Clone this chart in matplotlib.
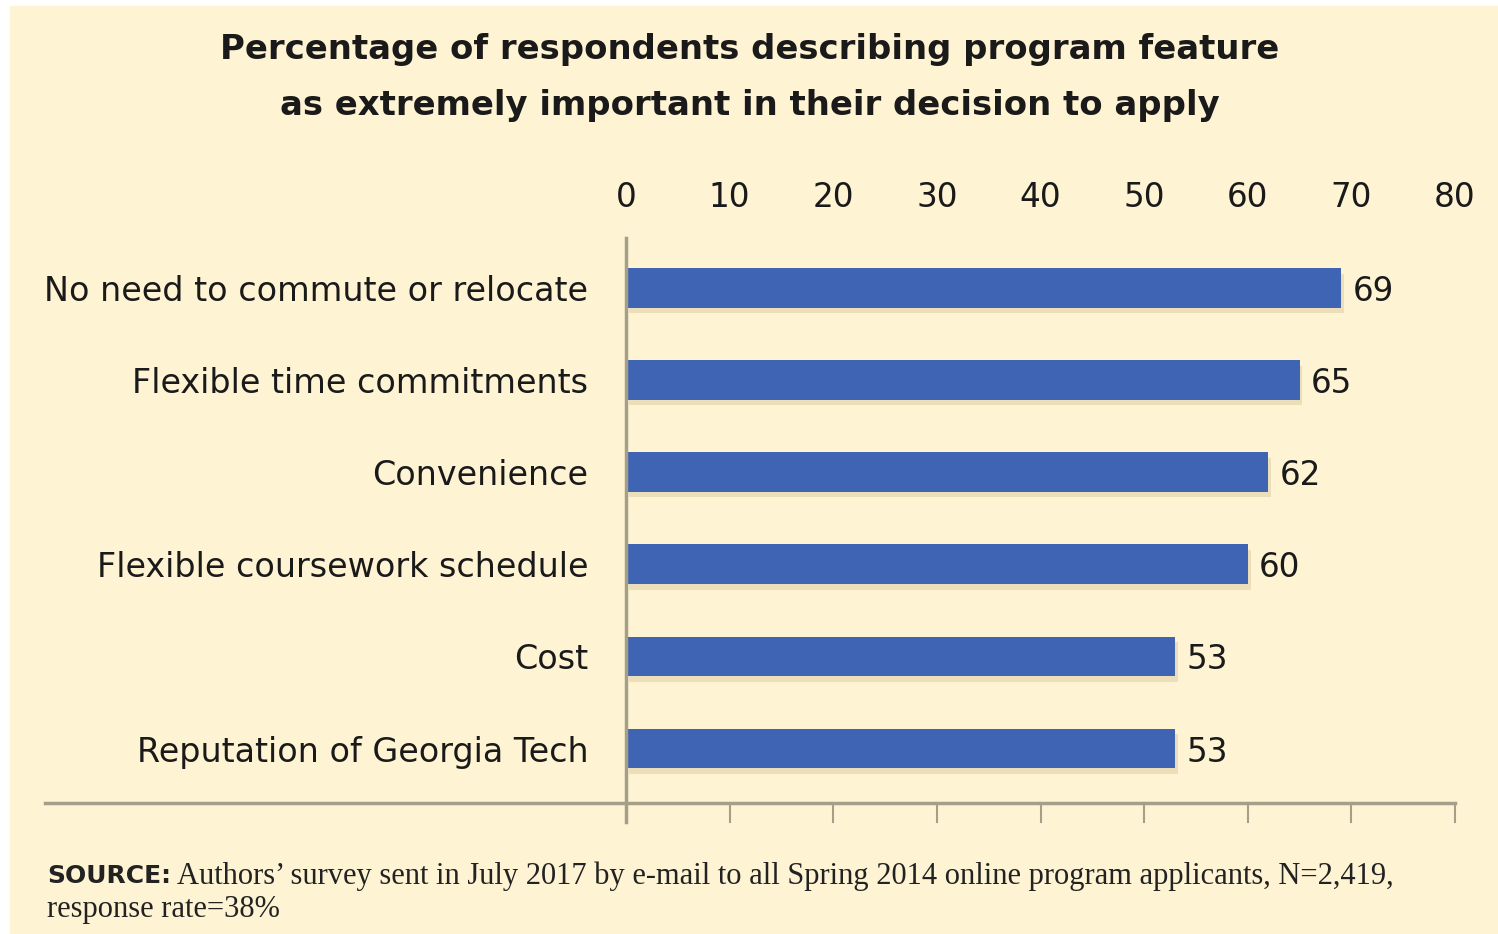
import matplotlib.pyplot as plt
from matplotlib.patches import Rectangle
from matplotlib.transforms import blended_transform_factory
import matplotlib.patheffects as pe

categories = ["No need to commute or relocate", "Flexible time commitments",
              "Convenience", "Flexible coursework schedule", "Cost",
              "Reputation of Georgia Tech"]
values = [69, 65, 62, 60, 53, 53]
xticks = [0, 10, 20, 30, 40, 50, 60, 70, 80]

cream = "#fef3d2"
bar_color = "#3e64b3"
axis_color = "#a59f8a"
text_color = "#1a1a1a"
font = "DejaVu Sans"

fig = plt.figure(figsize=(14.98, 9.34), dpi=100)
fig.patch.set_facecolor("white")
fig.patches.append(Rectangle((10 / 1498, 0), 1 - 10 / 1498, 1 - 6 / 934,
                             transform=fig.transFigure, color=cream, zorder=-10))

ax = fig.add_axes([626 / 1498, 1 - 803 / 934, 829 / 1498, 565 / 934])
ax.set_facecolor("none")

y = list(range(len(categories)))
bars = ax.barh(y, values, height=0.43, color=bar_color, zorder=3)
for b in bars:
    b.set_path_effects([pe.SimplePatchShadow(offset=(2, -4), shadow_rgbFace="#dccb9f", alpha=0.5),
                        pe.Normal()])

ax.set_xlim(0, 80)
ax.set_ylim(len(categories) - 1 + 0.59, -0.54)

for yi, v in zip(y, values):
    ax.text(v + 1.1, yi, str(v), va="center_baseline", ha="left", fontsize=23.5,
            family=font, color=text_color)

ax.set_yticks(y)
ax.set_yticklabels(categories, fontsize=24, family=font, color=text_color)
ax.tick_params(axis="y", length=0, pad=27)

ax.xaxis.tick_top()
ax.set_xticks(xticks)
ax.set_xticklabels([str(t) for t in xticks], fontsize=23.5, family=font, color=text_color)
ax.tick_params(axis="x", length=0, pad=17)

for s in ax.spines.values():
    s.set_visible(False)

# vertical axis line at zero, running a bit below the baseline
ax.plot([0, 0], [-0.54, len(categories) - 1 + 0.59 + 0.21], color=axis_color,
        lw=2.5, clip_on=False, zorder=4)
# baseline extending under the labels
tr = blended_transform_factory(ax.transAxes, ax.transData)
base = len(categories) - 1 + 0.59
ax.plot([(45 - 626) / 829, 1], [base, base], color=axis_color, lw=2.5,
        transform=tr, clip_on=False)
for t in xticks[1:]:
    ax.plot([t, t], [base, base + 0.21], color=axis_color, lw=1.5, clip_on=False)

fig.text(750 / 1498, 1 - 50 / 934, "Percentage of respondents describing program feature",
         ha="center", va="center", fontsize=24.4, fontweight="bold", family=font,
         color=text_color)
fig.text(750 / 1498, 1 - 105 / 934, "as extremely important in their decision to apply",
         ha="center", va="center", fontsize=24.4, fontweight="bold", family=font,
         color=text_color)

src = fig.text(47 / 1498, 1 - 876 / 934, "SOURCE:", ha="left", va="center",
               fontsize=18, fontweight="bold", family=font, color="#222222")
fig.canvas.draw()
bb = src.get_window_extent()
fig.text(bb.x1 / 1498 + 6 / 1498, 1 - 876 / 934,
         "Authors\u2019 survey sent in July 2017 by e-mail to all Spring 2014 online program applicants, N=2,419,",
         ha="left", va="center", fontsize=22, family="Liberation Serif", color="#222222")
fig.text(47 / 1498, 1 - 910 / 934, "response rate=38%", ha="left", va="center",
         fontsize=22, family="Liberation Serif", color="#222222")

fig.savefig("out.png", dpi=100, facecolor=fig.get_facecolor())
